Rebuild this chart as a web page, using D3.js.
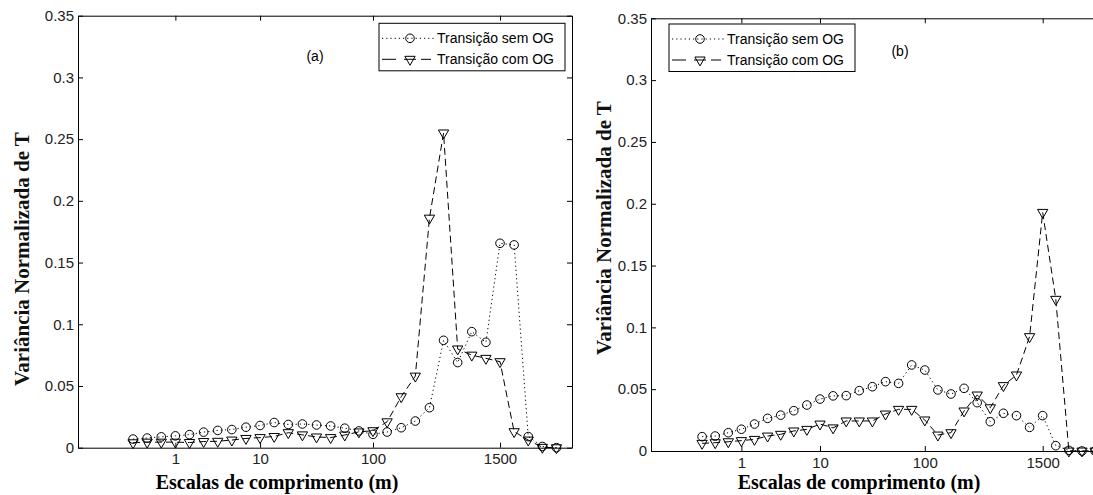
<!DOCTYPE html>
<html>
<head>
<meta charset="utf-8">
<script src="https://cdn.jsdelivr.net/npm/d3@7"></script>
<style>
  body { margin: 0; background: #fff; }
  svg { display: block; }
  .tick text { font-family: "Liberation Sans", Arial, sans-serif; font-size: 15px; fill: #222; }
  .tick line, .domain { stroke: #000; }
</style>
</head>
<body>
<div id="chart"></div>
<script>
// point index along the scale axis (31 scales per panel)
var pointIdx = d3.range(31);

// panel (a)
var semOG_a = [0.0070, 0.0078, 0.0088, 0.0096, 0.0106, 0.0126, 0.0140, 0.0147, 0.0166, 0.0180,
               0.0204, 0.0188, 0.0192, 0.0184, 0.0176, 0.0158, 0.0136, 0.0108, 0.0127, 0.0162,
               0.0216, 0.0324, 0.0870, 0.0690, 0.0940, 0.0854, 0.1656, 0.1643, 0.0090, 0.0010, 0.0000];
var comOG_a = [0.0040, 0.0045, 0.0045, 0.0045, 0.0042, 0.0050, 0.0052, 0.0062, 0.0075, 0.0082,
               0.0091, 0.0122, 0.0104, 0.0087, 0.0082, 0.0103, 0.0128, 0.0138, 0.0210, 0.0413,
               0.0580, 0.1860, 0.2550, 0.0800, 0.0750, 0.0724, 0.0697, 0.0130, 0.0062, 0.0003, 0.0000];

// panel (b)
var semOG_b = [0.0116, 0.0121, 0.0148, 0.0176, 0.0218, 0.0264, 0.0290, 0.0326, 0.0372, 0.0420,
               0.0446, 0.0448, 0.0488, 0.0520, 0.0561, 0.0547, 0.0696, 0.0655, 0.0494, 0.0461,
               0.0507, 0.0391, 0.0237, 0.0305, 0.0286, 0.0191, 0.0286, 0.0043, 0.0005, 0.0000, 0.0000];
var comOG_b = [0.0062, 0.0067, 0.0075, 0.0084, 0.0094, 0.0121, 0.0135, 0.0162, 0.0175, 0.0218,
               0.0187, 0.0243, 0.0243, 0.0243, 0.0299, 0.0337, 0.0337, 0.0251, 0.0129, 0.0148,
               0.0324, 0.0453, 0.0350, 0.0529, 0.0615, 0.0925, 0.1930, 0.1227, 0.0000, 0.0000, 0.0000];

var xTickIdx = [3, 9, 17, 26];
var xTickLabels = ["1", "10", "100", "1500"];
var yTickValues = [0, 0.05, 0.1, 0.15, 0.2, 0.25, 0.3, 0.35];
var yTickLabels = ["0", "0.05", "0.1", "0.15", "0.2", "0.25", "0.3", "0.35"];
var seriesNames = ["Transição sem OG", "Transição com OG"];
var panelTags = ["(a)", "(b)"];

var W = 1093, H = 495;

var svg = d3.select("#chart").append("svg")
    .attr("width", W)
    .attr("height", H)
    .attr("viewBox", "0 0 " + W + " " + H);

var triangle = d3.symbol().type(d3.symbolTriangle).size(46);

function drawPanel(p, sem, com, tag) {
    var x = d3.scaleLinear().domain([-3.9, 31.1]).range([p.left, p.right]);
    var y = d3.scaleLinear().domain([0, 0.35]).range([p.bottom, p.top]);
    var g = svg.append("g");

    // axes, MATLAB style: ticks inward on all four sides
    g.append("g")
        .attr("transform", "translate(0," + p.bottom + ")")
        .call(d3.axisBottom(x).tickValues(xTickIdx)
            .tickFormat(function (d, i) { return xTickLabels[i]; })
            .tickSizeInner(-5).tickSizeOuter(0).tickPadding(6));
    g.append("g")
        .attr("transform", "translate(0," + p.top + ")")
        .call(d3.axisTop(x).tickValues(xTickIdx).tickFormat("")
            .tickSizeInner(-5).tickSizeOuter(0));
    g.append("g")
        .attr("transform", "translate(" + p.left + ",0)")
        .call(d3.axisLeft(y).tickValues(yTickValues)
            .tickFormat(function (d, i) { return yTickLabels[i]; })
            .tickSizeInner(-5).tickSizeOuter(0).tickPadding(4));
    g.append("g")
        .attr("transform", "translate(" + p.right + ",0)")
        .call(d3.axisRight(y).tickValues(yTickValues).tickFormat("")
            .tickSizeInner(-5).tickSizeOuter(0));

    var line = d3.line()
        .x(function (d, i) { return x(pointIdx[i]); })
        .y(function (d) { return y(d); });

    g.append("path").datum(sem)
        .attr("d", line).attr("fill", "none")
        .attr("stroke", "#000").attr("stroke-width", 1)
        .attr("stroke-dasharray", "1.2,3");
    g.append("path").datum(com)
        .attr("d", line).attr("fill", "none")
        .attr("stroke", "#000").attr("stroke-width", 1)
        .attr("stroke-dasharray", "7,4");

    g.selectAll("circle.sem").data(sem).enter().append("circle")
        .attr("class", "sem")
        .attr("cx", function (d, i) { return x(pointIdx[i]); })
        .attr("cy", function (d) { return y(d); })
        .attr("r", 4.3)
        .attr("fill", "none").attr("stroke", "#000").attr("stroke-width", 1);
    g.selectAll("path.com").data(com).enter().append("path")
        .attr("class", "com")
        .attr("d", triangle)
        .attr("transform", function (d, i) {
            return "translate(" + x(pointIdx[i]) + "," + y(d) + ") rotate(180)";
        })
        .attr("fill", "none").attr("stroke", "#000").attr("stroke-width", 1);

    // panel tag
    g.append("text")
        .attr("x", p.tagX).attr("y", p.tagY)
        .attr("text-anchor", "middle")
        .style("font-family", "Liberation Sans, Arial, sans-serif")
        .style("font-size", "14px")
        .text(tag);

    // axis titles
    g.append("text")
        .attr("x", p.xLabelX).attr("y", 489)
        .attr("text-anchor", "middle")
        .style("font-family", "Liberation Serif, Times New Roman, serif")
        .style("font-weight", "bold").style("font-size", "20px")
        .text("Escalas de comprimento (m)");
    g.append("text")
        .attr("transform", "translate(" + p.yLabelX + "," + p.yLabelY + ") rotate(-90)")
        .attr("text-anchor", "middle")
        .style("font-family", "Liberation Serif, Times New Roman, serif")
        .style("font-weight", "bold").style("font-size", "21px")
        .attr("fill", "#111")
        .text("Variância Normalizada de T");

    // legend
    var lg = g.append("g").attr("transform", "translate(" + p.legendX + "," + p.legendY + ")");
    lg.append("rect")
        .attr("width", 186).attr("height", 47.5)
        .attr("fill", "#fff").attr("stroke", "#000").attr("stroke-width", 1);
    var rows = [15, 36];
    lg.append("line").attr("x1", 3).attr("x2", 56).attr("y1", rows[0]).attr("y2", rows[0])
        .attr("stroke", "#000").attr("stroke-dasharray", "1.2,3");
    lg.append("circle").attr("cx", 31).attr("cy", rows[0]).attr("r", 4.3)
        .attr("fill", "none").attr("stroke", "#000");
    lg.append("line").attr("x1", 3).attr("x2", 17).attr("y1", rows[1]).attr("y2", rows[1])
        .attr("stroke", "#000");
    lg.append("line").attr("x1", 25).attr("x2", 37).attr("y1", rows[1]).attr("y2", rows[1])
        .attr("stroke", "#000");
    lg.append("line").attr("x1", 42).attr("x2", 52).attr("y1", rows[1]).attr("y2", rows[1])
        .attr("stroke", "#000");
    lg.append("path").attr("d", triangle)
        .attr("transform", "translate(31," + rows[1] + ") rotate(180)")
        .attr("fill", "none").attr("stroke", "#000");
    lg.selectAll("text.lab").data(seriesNames).enter().append("text")
        .attr("class", "lab")
        .attr("x", 58)
        .attr("y", function (d, i) { return rows[i] + 5; })
        .style("font-family", "Liberation Sans, Arial, sans-serif")
        .style("font-size", "14px")
        .text(function (d) { return d; });
}

drawPanel({left: 78, right: 572, top: 15.7, bottom: 447.7,
           xLabelX: 277, yLabelX: 29, yLabelY: 259,
           tagX: 315, tagY: 61, legendX: 379, legendY: 23.3},
          semOG_a, comOG_a, panelTags[0]);
drawPanel({left: 651, right: 1109.5, top: 18.3, bottom: 451,
           xLabelX: 859, yLabelX: 611, yLabelY: 228,
           tagX: 900, tagY: 56, legendX: 669, legendY: 24},
          semOG_b, comOG_b, panelTags[1]);
</script>
</body>
</html>
